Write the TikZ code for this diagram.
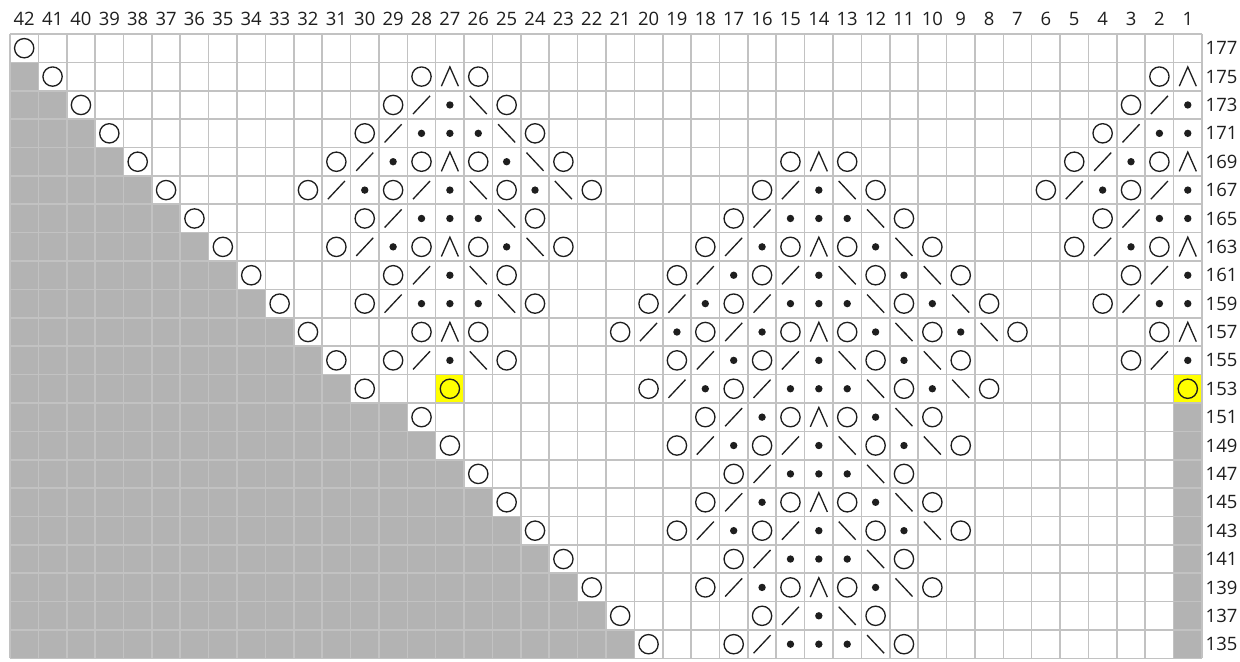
\documentclass[tikz,border=0pt]{standalone}
\usepackage{fontspec}
\setmainfont{Open Sans}
\definecolor{ChartGrid}{HTML}{C2C2C2}
\definecolor{ChartShade}{HTML}{B3B3B3}
\definecolor{ChartInk}{HTML}{1E1E1E}
\definecolor{ChartMark}{HTML}{FFFF00}

\begin{document}
\begin{tikzpicture}[x=0.5676cm,y=0.5676cm,line cap=butt,line join=miter,
    sym/.style={ChartInk,line width=0.75pt},
    gridline/.style={ChartGrid,line width=0.9pt},
    numlabel/.style={font=\fontsize{10.5}{12}\selectfont,text=ChartInk,inner sep=0pt}]

% One cell = 1 unit, origin at the top-left corner of the chart
% column c sits at x = 42.5-c, row r at y = (r-177)/2-0.5
\def\symw{0.3}   % half width of decrease marks
\def\symh{0.32}  % half height of decrease marks
\def\yorad{0.34} % yarn-over circle
\def\dotrad{0.13}

\useasboundingbox (-0.352,1.198) rectangle (43.34,-22.093);
\fill[white] (-0.352,1.198) rectangle (43.34,-22.093);

% ---- NO-STITCH CELLS ----
\foreach \i in {1,...,21} {
  \pgfmathtruncatemacro{\n}{\i+(\i>12)}
  \fill[ChartShade] (0,-\i) rectangle (\n,-\i-1);
}
\fill[ChartShade] (41,-13) rectangle (42,-22);

% highlighted cells (row 153)
\fill[ChartMark] (15,-12) rectangle (16,-13);
\fill[ChartMark] (41,-12) rectangle (42,-13);

% Grid
\foreach \x in {0,...,42}
  \draw[gridline] (\x,0) -- (\x,-22);
\foreach \y in {0,...,22}
  \draw[gridline] (0,-\y) -- (42,-\y);

% ---- YARN OVERS ----
\foreach \r/\cs in {177/{42}, 175/{41,28,26,2}, 173/{40,29,25,3}, 171/{39,30,24,4},
    169/{38,31,28,26,23,15,13,5,2}, 167/{37,32,29,25,22,16,12,6,3},
    165/{36,30,24,17,11,4}, 163/{35,31,28,26,23,18,15,13,10,5,2},
    161/{34,29,25,19,16,12,9,3}, 159/{33,30,24,20,17,11,8,4},
    157/{32,28,26,21,18,15,13,10,7,2}, 155/{31,29,25,19,16,12,9,3},
    153/{30,27,20,17,11,8,1}, 151/{28,18,15,13,10}, 149/{27,19,16,12,9},
    147/{26,17,11}, 145/{25,18,15,13,10}, 143/{24,19,16,12,9}, 141/{23,17,11},
    139/{22,18,15,13,10}, 137/{21,16,12}, 135/{20,17,11}} {
  \foreach \c in \cs
    \draw[sym] ({42.5-\c},{(\r-177)/2-0.5}) circle (\yorad);
}

% ---- K2TOG ( / ) ----
\foreach \r/\cs in {173/{28,2}, 171/{29,3}, 169/{30,4}, 167/{31,28,15,5,2},
    165/{29,16,3}, 163/{30,17,4}, 161/{28,18,15,2}, 159/{29,19,16,3},
    157/{20,17}, 155/{28,18,15,2}, 153/{19,16}, 151/{17}, 149/{18,15},
    147/{16}, 145/{17}, 143/{18,15}, 141/{16}, 139/{17}, 137/{15}, 135/{16}} {
  \foreach \c in \cs
    \draw[sym] ({42.5-\c},{(\r-177)/2-0.5}) ++(-\symw,-\symh) -- ++(2*\symw,2*\symh);
}

% ---- SSK ( \ ) ----
\foreach \r/\cs in {173/{26}, 171/{25}, 169/{24}, 167/{26,23,13}, 165/{25,12},
    163/{24,11}, 161/{26,13,10}, 159/{25,12,9}, 157/{11,8}, 155/{26,13,10},
    153/{12,9}, 151/{11}, 149/{13,10}, 147/{12}, 145/{11}, 143/{13,10},
    141/{12}, 139/{11}, 137/{13}, 135/{12}} {
  \foreach \c in \cs
    \draw[sym] ({42.5-\c},{(\r-177)/2-0.5}) ++(-\symw,\symh) -- ++(2*\symw,-2*\symh);
}

% ---- CENTRED DOUBLE DECREASE ----
\foreach \r/\cs in {175/{27,1}, 169/{27,14,1}, 163/{27,14,1}, 157/{27,14,1},
    151/{14}, 145/{14}, 139/{14}} {
  \foreach \c in \cs
    \draw[sym] ({42.5-\c},{(\r-177)/2-0.5}) ++(-\symw,-0.34) -- ++(\symw,0.68) -- ++(\symw,-0.68);
}

% ---- PURL ----
\foreach \r/\cs in {173/{27,1}, 171/{28,27,26,2,1}, 169/{29,25,3},
    167/{30,27,24,14,4,1}, 165/{28,27,26,15,14,13,2,1}, 163/{29,25,16,12,3},
    161/{27,17,14,11,1}, 159/{28,27,26,18,15,14,13,10,2,1}, 157/{19,16,12,9},
    155/{27,17,14,11,1}, 153/{18,15,14,13,10}, 151/{16,12}, 149/{17,14,11},
    147/{15,14,13}, 145/{16,12}, 143/{17,14,11}, 141/{15,14,13}, 139/{16,12},
    137/{14}, 135/{15,14,13}} {
  \foreach \c in \cs
    \fill[ChartInk] ({42.5-\c},{(\r-177)/2-0.5}) circle (\dotrad);
}

% ---- NUMBERING ----
\foreach \c in {1,...,42}
  \node[numlabel] (col\c) at ({42.5-\c},0.546) {\c};
\foreach \r in {177,175,...,135}
  \node[numlabel,anchor=west] (row\r) at (42.12,{(\r-177)/2-0.5}) {\r};

\end{tikzpicture}
\end{document}
